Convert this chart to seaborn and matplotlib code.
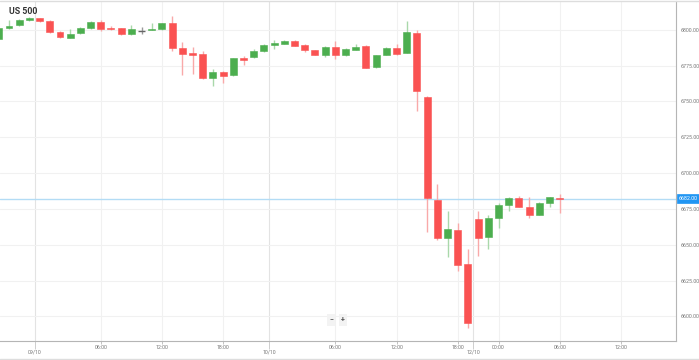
import numpy as np
import matplotlib
matplotlib.use("Agg")
import matplotlib.pyplot as plt
import matplotlib.transforms as mtransforms
from matplotlib.lines import Line2D
import seaborn as sns

# hourly candles
opens = [6793.3, 6801.0, 6803.1, 6806.6, 6808.0, 6806.3, 6798.6, 6794.4, 6797.5, 6801.0,
         6805.2, 6801.4, 6801.0, 6796.8, 6799.3, 6799.8, 6800.3, 6804.5, 6787.4, 6783.3,
         6783.0, 6766.5, 6770.7, 6768.2, 6779.6, 6780.7, 6784.9, 6789.5, 6790.2, 6792.1,
         6789.5, 6785.6, 6782.6, 6788.1, 6782.6, 6785.8, 6788.6, 6773.8, 6782.6, 6787.4,
         6783.7, 6797.9, 6753.2, 6681.2, 6654.4, 6660.2, 6636.5, 6667.7, 6655.1, 6668.4,
         6677.7, 6682.3, 6676.1, 6670.7, 6678.9, 6682.6]
closes = [6801.4, 6802.6, 6806.8, 6808.0, 6806.1, 6798.6, 6794.7, 6797.2, 6801.4, 6805.2,
          6800.5, 6800.3, 6797.0, 6800.5, 6799.3, 6800.0, 6804.5, 6787.4, 6783.0, 6782.6,
          6766.1, 6770.7, 6767.9, 6780.0, 6779.1, 6785.3, 6789.3, 6790.2, 6792.1, 6788.8,
          6785.8, 6782.6, 6788.1, 6782.6, 6786.3, 6788.1, 6773.5, 6782.1, 6787.4, 6783.3,
          6798.2, 6757.0, 6682.3, 6654.4, 6660.7, 6635.8, 6595.5, 6654.6, 6668.4, 6677.5,
          6682.8, 6676.3, 6670.7, 6678.9, 6683.0, 6681.9]
highs = [6802.0, 6806.8, 6807.2, 6808.5, 6808.3, 6806.6, 6799.0, 6800.5, 6801.8, 6806.3,
         6807.0, 6802.8, 6801.3, 6803.3, 6801.7, 6804.9, 6805.0, 6809.6, 6791.6, 6787.7,
         6784.9, 6772.4, 6771.2, 6780.5, 6781.9, 6786.3, 6789.8, 6792.8, 6792.5, 6792.6,
         6789.8, 6786.0, 6788.5, 6792.3, 6787.0, 6789.8, 6789.0, 6782.5, 6787.8, 6790.0,
         6806.3, 6799.8, 6753.6, 6692.3, 6673.7, 6664.9, 6646.8, 6673.7, 6670.7, 6679.1,
         6683.5, 6684.0, 6683.5, 6679.6, 6683.3, 6685.1]
lows = [6792.0, 6800.8, 6802.8, 6806.0, 6805.4, 6798.0, 6794.2, 6794.0, 6797.0, 6800.7,
        6799.3, 6799.6, 6796.5, 6796.5, 6797.0, 6799.7, 6800.0, 6785.3, 6768.4, 6769.1,
        6765.6, 6760.7, 6762.6, 6768.0, 6775.6, 6780.0, 6784.5, 6786.3, 6790.0, 6788.5,
        6784.6, 6782.2, 6780.7, 6779.3, 6781.6, 6785.6, 6773.0, 6773.4, 6782.3, 6782.6,
        6783.5, 6743.5, 6659.0, 6653.3, 6641.6, 6631.8, 6592.0, 6642.1, 6646.8, 6661.4,
        6673.7, 6676.0, 6668.8, 6670.4, 6676.1, 6672.3]

last_price = 6682.0
y_ticks = [6600, 6625, 6650, 6675, 6700, 6725, 6750, 6775, 6800]
time_ticks = [10, 16, 22, 33, 39, 45, 49, 55, 61]
time_labels = ["06:00", "12:00", "18:00", "06:00", "12:00", "18:00", "00:00", "06:00", "12:00"]
date_ticks = [3.55, 26.5, 46.5]
date_labels = ["09/10", "10/10", "12/10"]

UP = "#4cae4f"
DOWN = "#fa5252"
UP_WICK = "#a9d8aa"
DOWN_WICK = "#f9a9a9"
FLAT = "#666666"

sns.set_theme(style="white")
plt.rcParams['font.family'] = ['Roboto', 'DejaVu Sans']

fig = plt.figure(figsize=(6.99, 3.6), dpi=100)
ax = fig.add_axes([0, 19 / 360, 676 / 699, 340 / 360])

o = np.array(opens)
c = np.array(closes)
x = np.arange(len(o))
up = c > o
down = c < o
flat = c == o

body_col = np.where(up, UP, DOWN)
wick_col = np.where(up, UP_WICK, DOWN_WICK)
wick_col = np.where(flat, "#999999", wick_col)

ax.vlines(x, lows, highs, colors=wick_col, linewidth=1.0, zorder=2)

bottom = np.minimum(o, c)
height = np.maximum(np.abs(c - o), 0.9)
m = ~flat
ax.bar(x[m], height[m], bottom=bottom[m], width=0.68, color=body_col[m],
       edgecolor=body_col[m], linewidth=0.4, zorder=3)
ax.hlines(o[flat], x[flat] - 0.34, x[flat] + 0.34, colors=FLAT, linewidth=1.0, zorder=3)

# current price line + tag
ax.axhline(last_price, color="#b3dcf5", linewidth=1.0, zorder=1)
trans = mtransforms.blended_transform_factory(ax.transAxes, ax.transData)
ax.text(1.004, last_price, f"{last_price:.2f}", transform=trans, ha="left", va="center",
        fontsize=3.8, color="white",
        bbox=dict(boxstyle="square,pad=0.35", fc="#2196f3", ec="#2196f3", lw=0.5))

ax.set_xlim(0.12, 66.4)
ax.set_ylim(6582.8, 6820.0)

ax.yaxis.tick_right()
ax.set_yticks(y_ticks)
ax.set_yticklabels([f"{v:.2f}" for v in y_ticks])
ax.set_xticks(time_ticks)
ax.set_xticklabels(time_labels)
ax.set_xticks(date_ticks, minor=True)
ax.set_xticklabels(date_labels, minor=True)

ax.tick_params(axis="y", which="major", right=True, left=False, length=2, width=0.5,
               color="#aaaaaa", labelsize=3.8, labelcolor="#777777", pad=1)
ax.tick_params(axis="x", which="major", bottom=True, length=2, width=0.5,
               color="#aaaaaa", labelsize=3.8, labelcolor="#777777", pad=0.8)
ax.tick_params(axis="x", which="minor", bottom=True, length=5.5, width=0.5,
               color="#bbbbbb", labelsize=3.8, labelcolor="#777777", pad=0.8)

ax.grid(True, which="major", color="#f1f1f1", linewidth=0.8)
ax.grid(True, which="minor", axis="x", color="#e3e3e3", linewidth=0.8)
ax.set_axisbelow(True)

sns.despine(ax=ax, left=True, top=True, right=False, bottom=False)
for side in ("right", "bottom"):
    ax.spines[side].set_color("#b5b5b5")
    ax.spines[side].set_linewidth(0.8)

ax.text(9 / 676, 1 - 10 / 340, "US 500", transform=ax.transAxes, ha="left", va="center",
        fontsize=6.3, fontweight="bold", color="#333333")

# zoom buttons
for xp, s in [(331, "\u2212"), (343, "+")]:
    ax.text(xp / 676, (341 - 320) / 340, s, transform=ax.transAxes, ha="center", va="center",
            fontsize=5, fontweight="bold", color="#555555",
            bbox=dict(boxstyle="square,pad=0.25", fc="#f3f3f3", ec="none"))

fig.add_artist(Line2D([0, 1], [1 - 0.5 / 360] * 2, transform=fig.transFigure,
                      color="#dddddd", linewidth=1.0))
fig.add_artist(Line2D([0, 1], [0.7 / 360] * 2, transform=fig.transFigure,
                      color="#dddddd", linewidth=1.0))

fig.savefig("out.png", dpi=100, facecolor="white")
